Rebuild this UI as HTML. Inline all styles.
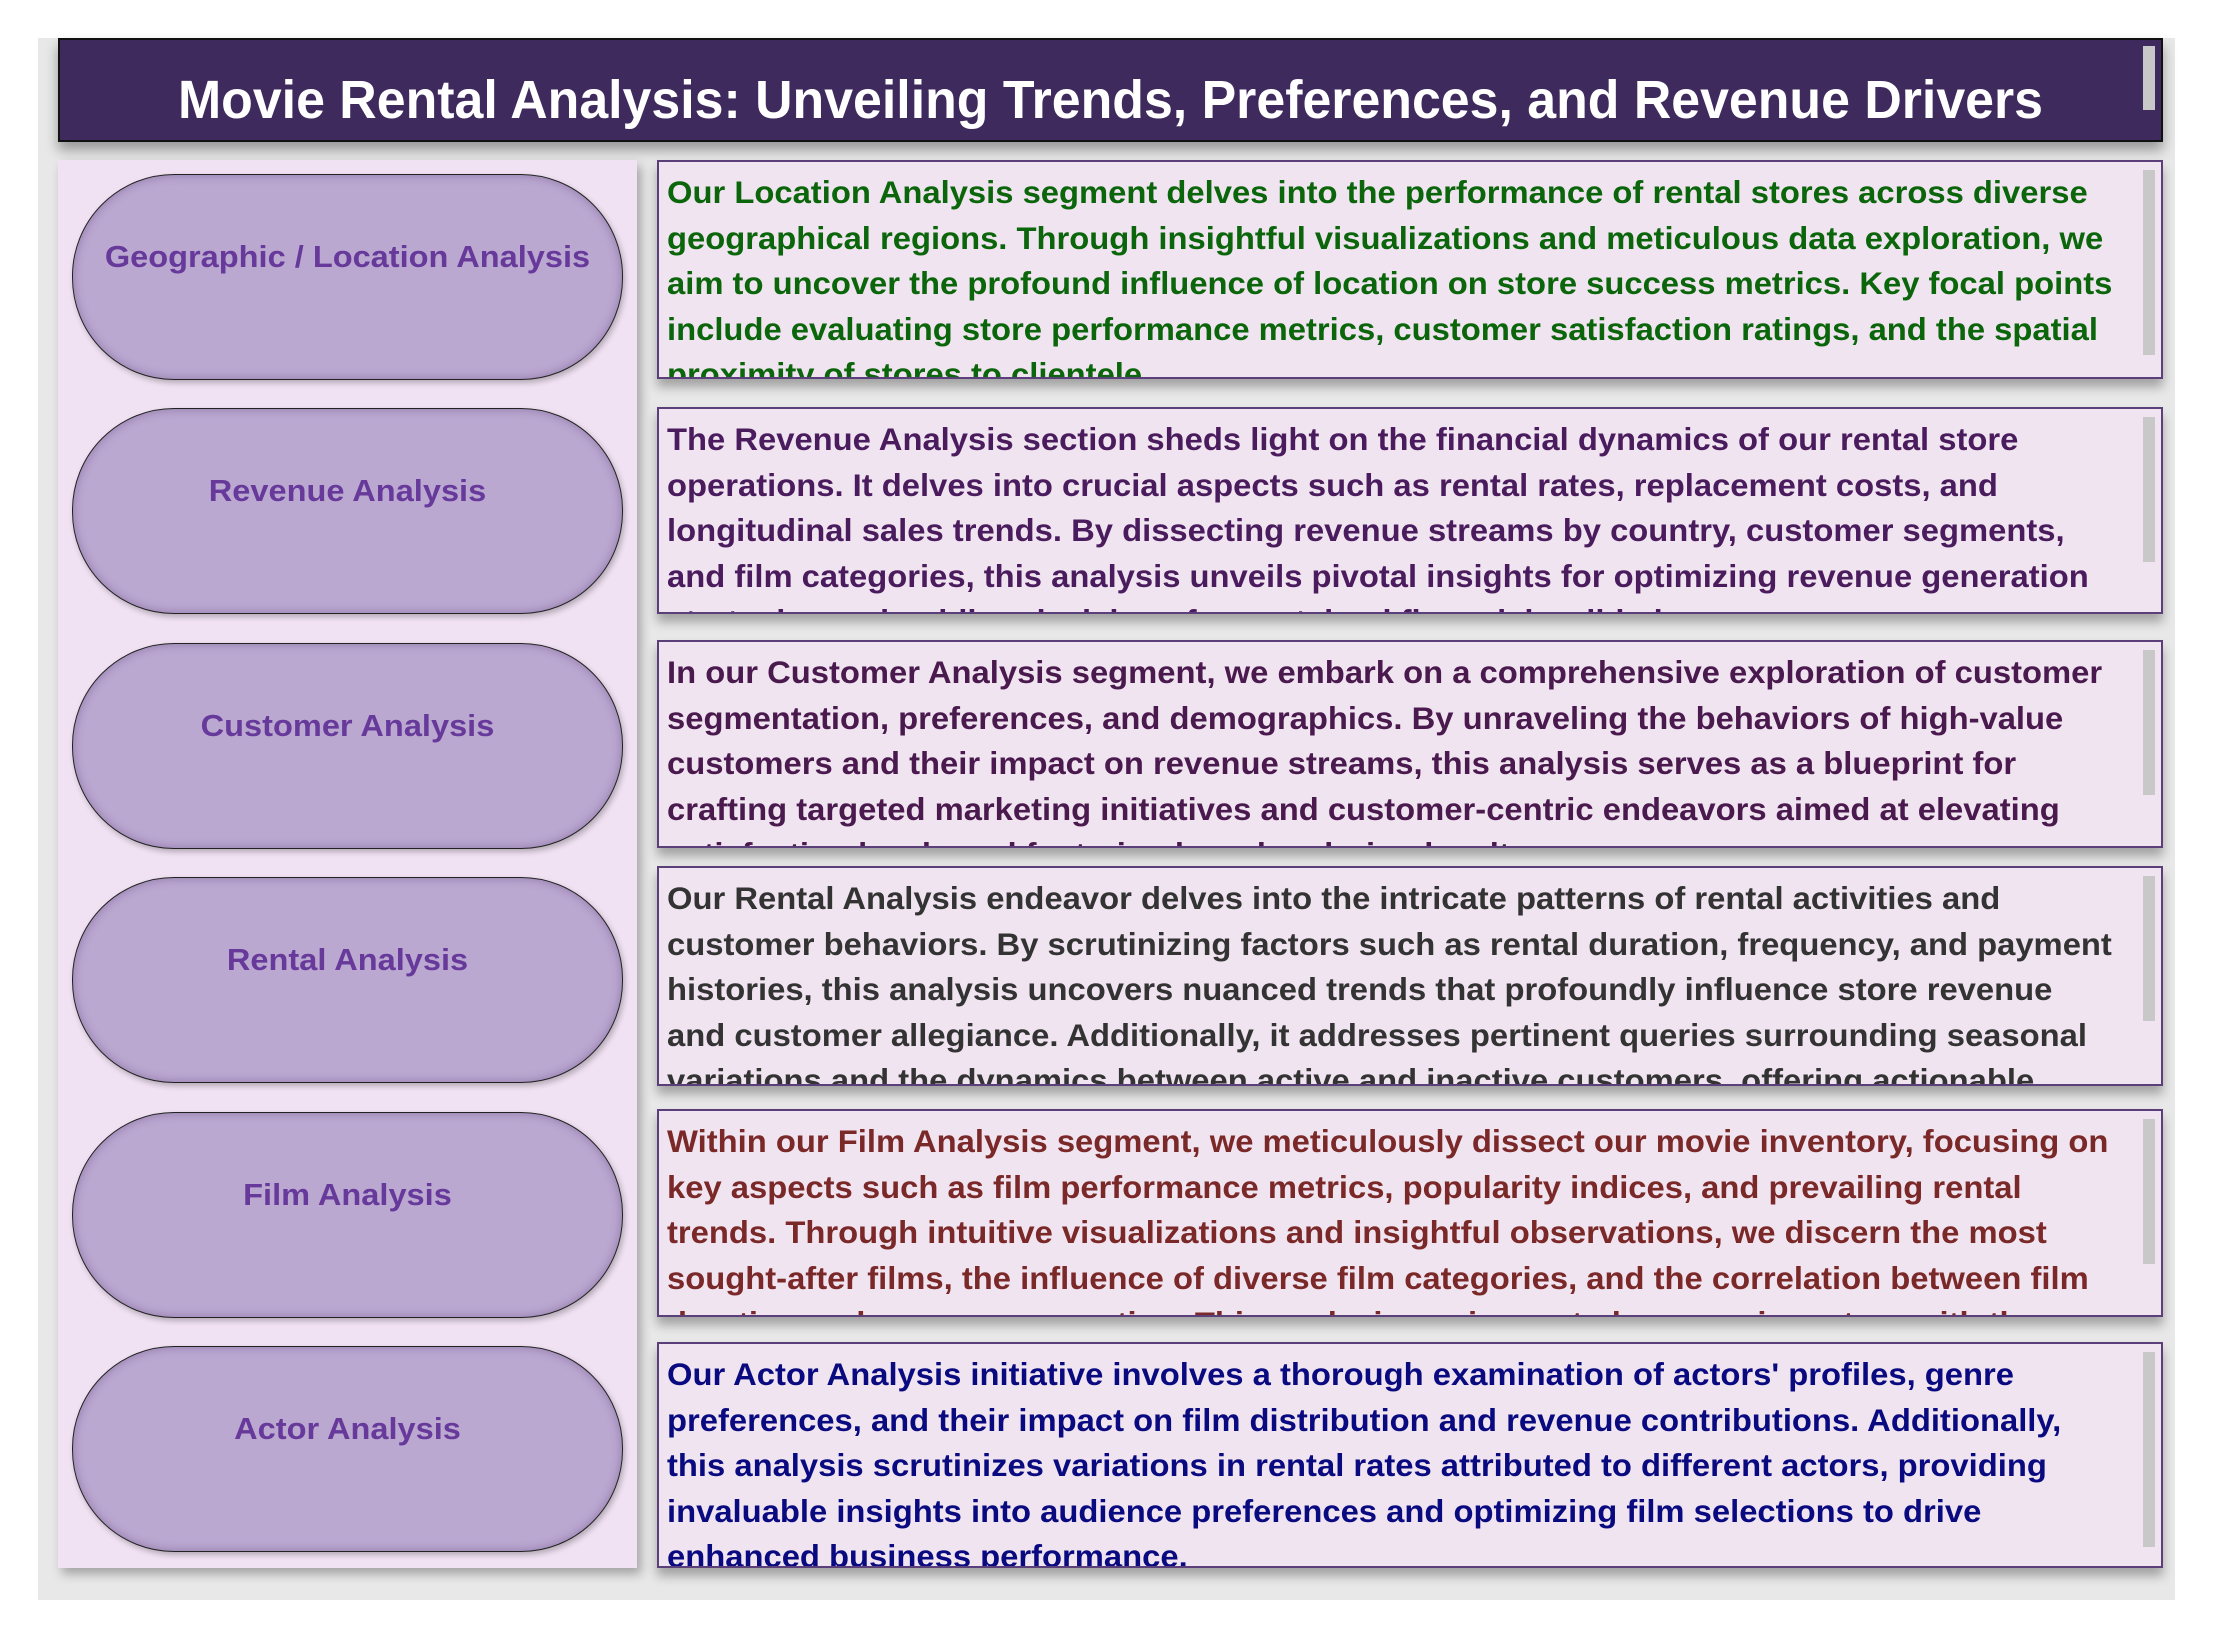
<!DOCTYPE html>
<html><head><meta charset="utf-8">
<style>
html,body{margin:0;padding:0;background:#fff;}
body{width:2215px;height:1638px;position:relative;overflow:hidden;font-family:"Liberation Sans",sans-serif;}
#bg{position:absolute;left:38px;top:38px;width:2137px;height:1562px;background:#e8e8e8;}
#header{position:absolute;left:58px;top:38px;width:2101px;height:100px;background:#3f2a5e;border:2px solid #111;box-shadow:0 8px 12px rgba(0,0,0,0.35);}
#title{position:absolute;left:0;width:100%;top:10px;line-height:100px;text-align:center;color:#fff;font-weight:bold;font-size:54px;transform:scaleX(0.96);transform-origin:center;}
.hscroll{position:absolute;left:2143px;top:46px;width:12px;height:64px;background:#c8c8c8;}
#left{position:absolute;left:58px;top:160px;width:579px;height:1408px;background:#f1e2f3;box-shadow:4px 6px 10px rgba(0,0,0,0.3);}
.pill{position:absolute;left:72px;width:549px;height:204px;border:1.5px solid #222;border-radius:102px;background:#bba8d1;box-shadow:inset 0 0 10px rgba(60,30,90,0.35),2px 3px 6px rgba(0,0,0,0.25);}
.pill span{position:absolute;left:0;width:100%;top:64px;text-align:center;font-weight:bold;font-size:31px;color:#66399a;line-height:36px;transform:scaleX(1.05);}
.box{position:absolute;left:657px;width:1502px;background:#f0e4f0;border:2px solid #5a3f7a;overflow:hidden;box-shadow:0 8px 10px rgba(0,0,0,0.3);}
.txt{position:absolute;left:8px;top:8px;font-weight:bold;font-size:31.5px;line-height:45.5px;white-space:nowrap;transform:scaleX(1.04);transform-origin:left top;}
.sb{position:absolute;right:6px;top:8px;width:12px;background:#c8c8c8;}
</style></head><body>
<div id="bg"></div>
<div id="header"><div id="title">Movie Rental Analysis: Unveiling Trends, Preferences, and Revenue Drivers</div></div>
<div class="hscroll"></div>
<div id="left"></div>

<div class="pill" style="top:174px"><span style="top:64px">Geographic / Location Analysis</span></div>
<div class="pill" style="top:408px"><span>Revenue Analysis</span></div>
<div class="pill" style="top:643px"><span>Customer Analysis</span></div>
<div class="pill" style="top:877px"><span>Rental Analysis</span></div>
<div class="pill" style="top:1112px"><span>Film Analysis</span></div>
<div class="pill" style="top:1346px"><span>Actor Analysis</span></div>

<div class="box" style="top:160px;height:215px">
<div class="txt" style="color:#0b650b">Our Location Analysis segment delves into the performance of rental stores across diverse<br>geographical regions. Through insightful visualizations and meticulous data exploration, we<br>aim to uncover the profound influence of location on store success metrics. Key focal points<br>include evaluating store performance metrics, customer satisfaction ratings, and the spatial<br>proximity of stores to clientele.</div>
<div class="sb" style="height:185px"></div></div>

<div class="box" style="top:407px;height:203px">
<div class="txt" style="color:#4a1c5e">The Revenue Analysis section sheds light on the financial dynamics of our rental store<br>operations. It delves into crucial aspects such as rental rates, replacement costs, and<br>longitudinal sales trends. By dissecting revenue streams by country, customer segments,<br>and film categories, this analysis unveils pivotal insights for optimizing revenue generation<br>strategies and guiding decisions for sustained financial well-being.</div>
<div class="sb" style="height:145px"></div></div>

<div class="box" style="top:640px;height:204px">
<div class="txt" style="color:#4a1a4e">In our Customer Analysis segment, we embark on a comprehensive exploration of customer<br>segmentation, preferences, and demographics. By unraveling the behaviors of high-value<br>customers and their impact on revenue streams, this analysis serves as a blueprint for<br>crafting targeted marketing initiatives and customer-centric endeavors aimed at elevating<br>satisfaction levels and fostering brand enduring loyalty.</div>
<div class="sb" style="height:145px"></div></div>

<div class="box" style="top:866px;height:216px">
<div class="txt" style="color:#333333">Our Rental Analysis endeavor delves into the intricate patterns of rental activities and<br>customer behaviors. By scrutinizing factors such as rental duration, frequency, and payment<br>histories, this analysis uncovers nuanced trends that profoundly influence store revenue<br>and customer allegiance. Additionally, it addresses pertinent queries surrounding seasonal<br>variations and the dynamics between active and inactive customers, offering actionable</div>
<div class="sb" style="height:145px"></div></div>

<div class="box" style="top:1109px;height:204px">
<div class="txt" style="color:#7a2828">Within our Film Analysis segment, we meticulously dissect our movie inventory, focusing on<br>key aspects such as film performance metrics, popularity indices, and prevailing rental<br>trends. Through intuitive visualizations and insightful observations, we discern the most<br>sought-after films, the influence of diverse film categories, and the correlation between film<br>duration and revenue generation. This analysis equips us to keep our inventory with the</div>
<div class="sb" style="height:145px"></div></div>

<div class="box" style="top:1342px;height:222px">
<div class="txt" style="color:#0a0a80">Our Actor Analysis initiative involves a thorough examination of actors' profiles, genre<br>preferences, and their impact on film distribution and revenue contributions. Additionally,<br>this analysis scrutinizes variations in rental rates attributed to different actors, providing<br>invaluable insights into audience preferences and optimizing film selections to drive<br>enhanced business performance.</div>
<div class="sb" style="height:195px"></div></div>
</body></html>
